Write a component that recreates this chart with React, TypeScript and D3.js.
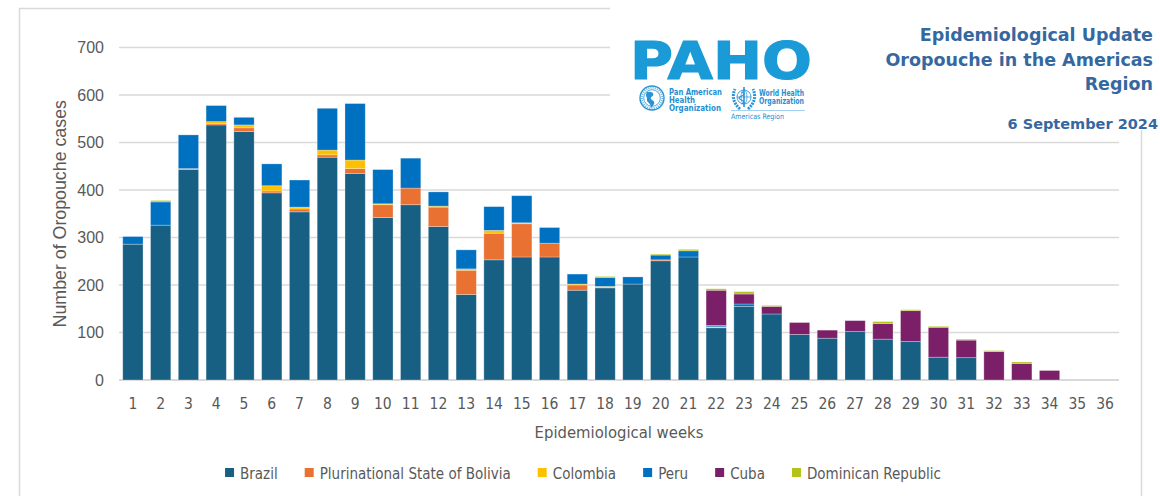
import React from 'react';
import * as d3 from 'd3';

// Epidemiological weeks (x categories)
const weeks = [
  '1', '2', '3', '4', '5', '6', '7', '8', '9', '10', '11', '12',
  '13', '14', '15', '16', '17', '18', '19', '20', '21', '22', '23', '24',
  '25', '26', '27', '28', '29', '30', '31', '32', '33', '34', '35', '36',
];

// Confirmed Oropouche cases per week, by country
const brazil = [286, 326, 443, 537, 523, 394, 354, 469, 435, 342, 369, 323, 180, 253, 259, 259, 189, 194, 202, 251, 259, 110, 155, 139, 96, 88, 102, 86, 81, 48, 47, 0, 0, 0, 0, 0];
const bolivia = [0, 0, 2, 3, 8, 4, 6, 5, 10, 27, 35, 41, 51, 56, 70, 29, 11, 1, 0, 2, 0, 0, 0, 0, 0, 0, 0, 0, 0, 0, 0, 0, 0, 0, 0, 0];
const colombia = [0, 0, 0, 4, 6, 11, 4, 10, 18, 2, 0, 2, 3, 6, 2, 0, 2, 2, 0, 0, 0, 2, 0, 0, 0, 0, 0, 0, 0, 0, 0, 0, 0, 0, 0, 0];
const peru = [16, 49, 71, 34, 16, 46, 57, 88, 119, 72, 63, 30, 40, 50, 57, 33, 21, 19, 15, 10, 13, 3, 5, 0, 0, 0, 0, 0, 0, 0, 0, 0, 0, 0, 0, 0];
const cuba = [0, 0, 0, 0, 0, 0, 0, 0, 0, 0, 0, 0, 0, 0, 0, 0, 0, 0, 0, 0, 0, 74, 21, 16, 25, 17, 23, 33, 65, 63, 37, 60, 35, 20, 0, 0];
const dominicanRepublic = [0, 3, 0, 1, 0, 0, 0, 0, 0, 0, 0, 0, 0, 0, 0, 0, 0, 2, 0, 2, 3, 3, 5, 2, 0, 0, 0, 4, 2, 2, 2, 2, 3, 0, 0, 0];

const countryNames = [
  'Brazil',
  'Plurinational State of Bolivia',
  'Colombia',
  'Peru',
  'Cuba',
  'Dominican Republic',
];
const countryValues = [brazil, bolivia, colombia, peru, cuba, dominicanRepublic];
const countryColors = ['#186083', '#E97132', '#FFC000', '#0070C0', '#7B2068', '#B4C31A'];

const yTicks = [0, 100, 200, 300, 400, 500, 600, 700];

const W = 1160;
const H = 496;
const PLOT_LEFT = 119;
const PLOT_RIGHT = 1119;
const PLOT_BOTTOM = 380;
const PLOT_TOP = 47.5;

const GREY = '#595959';
const GRID = '#d9d9d9';
const TITLE_BLUE = '#3568a0';
const LOGO_BLUE = '#1a9ad6';
const LOGO_TEXT = '#1f8fd2';
const NARROW = "'DejaVu Sans Condensed', 'DejaVu Sans', sans-serif";
const SANS = "'Liberation Sans', Arial, sans-serif";

let measureCtx: CanvasRenderingContext2D | null = null;
function measure(text: string, font: string): number {
  if (!measureCtx) {
    const c = document.createElement('canvas');
    measureCtx = c.getContext('2d');
  }
  if (!measureCtx) return text.length * 7;
  measureCtx.font = font;
  return measureCtx.measureText(text).width;
}

function PahoEmblem({ cx, cy }: { cx: number; cy: number }) {
  return (
    <g stroke="#2a93d4" fill="none">
      <circle cx={cx} cy={cy} r={12} strokeWidth={1.4} />
      <circle cx={cx} cy={cy} r={8.3} strokeWidth={0.8} />
      <path
        d={`M${cx - 5},${cy - 6} q3,-1 6,1 q1,3 -2,4 q-1,2 1,3 q3,1 2,4 q-2,3 -3,4 q0,-3 -2,-5 q-3,-2 -2,-5 q-2,-3 0,-6 z`}
        fill="#2a93d4"
        stroke="none"
      />
      <circle cx={cx} cy={cy} r={10.2} strokeWidth={2} strokeDasharray="1 1.2" opacity={0.7} />
    </g>
  );
}

function WhoEmblem({ cx, cy }: { cx: number; cy: number }) {
  return (
    <g stroke="#2a93d4" fill="none">
      <path d={`M${cx - 4},${cy + 11} Q${cx - 14},${cy + 2} ${cx - 9},${cy - 9}`} strokeWidth={3} strokeDasharray="2 1" />
      <path d={`M${cx + 4},${cy + 11} Q${cx + 14},${cy + 2} ${cx + 9},${cy - 9}`} strokeWidth={3} strokeDasharray="2 1" />
      <circle cx={cx} cy={cy - 1} r={7} strokeWidth={0.9} />
      <ellipse cx={cx} cy={cy - 1} rx={3} ry={7} strokeWidth={0.7} />
      <line x1={cx - 7} y1={cy - 1} x2={cx + 7} y2={cy - 1} strokeWidth={0.7} />
      <line x1={cx} y1={cy - 11} x2={cx} y2={cy + 9} strokeWidth={1.6} />
      <path d={`M${cx - 2.5},${cy - 6} q5,2 0,4 q-5,2 0,4 q5,2 0,4`} strokeWidth={1.2} />
    </g>
  );
}

export default function App() {
  const x = d3
    .scaleBand<string>()
    .domain(weeks)
    .range([PLOT_LEFT, PLOT_RIGHT])
    .paddingInner(0.27)
    .paddingOuter(0.135);
  const y = d3.scaleLinear().domain([0, 700]).range([PLOT_BOTTOM, PLOT_TOP]);

  const table = weeks.map((w, i) => {
    const row: Record<string, number | string> = { week: w };
    countryNames.forEach((n, k) => {
      row[n] = countryValues[k][i];
    });
    return row;
  });
  const stacked = d3
    .stack<Record<string, number | string>>()
    .keys(countryNames)
    .value((d, key) => d[key] as number)(table);

  // legend layout, centred under the chart frame
  const legendSize = 15;
  const legendFont = `${legendSize}px ${NARROW}`;
  const sq = 9;
  const sqGap = 6;
  const itemGap = 27;
  const widths = countryNames.map((n) => sq + sqGap + measure(n, legendFont));
  const legendTotal = d3.sum(widths) + itemGap * (countryNames.length - 1);
  const legendCenter = 583;
  let cursor = legendCenter - legendTotal / 2;
  const legendItems = countryNames.map((n, k) => {
    const item = { name: n, color: countryColors[k], x: cursor };
    cursor += widths[k] + itemGap;
    return item;
  });

  return (
    <svg
      width={W}
      height={H}
      viewBox={`0 0 ${W} ${H}`}
      style={{ position: 'absolute', left: 0, top: 0, background: '#fff' }}
    >
      <rect x={0} y={0} width={W} height={H} fill="#fff" />
      {/* chart frame */}
      <rect x={19.5} y={8.5} width={1122} height={520} fill="none" stroke={GRID} strokeWidth={1.5} />

      {/* gridlines */}
      {yTicks.map((t) => (
        <line
          key={`g${t}`}
          x1={PLOT_LEFT}
          x2={PLOT_RIGHT}
          y1={y(t)}
          y2={y(t)}
          stroke={GRID}
          strokeWidth={t === 0 ? 1.8 : 1.5}
        />
      ))}

      {/* y tick labels */}
      {yTicks.map((t) => (
        <text
          key={`yt${t}`}
          x={104}
          y={y(t)}
          dy="0.36em"
          textAnchor="end"
          fontFamily={SANS}
          fontSize={16}
          fill={GREY}
        >
          {t}
        </text>
      ))}

      {/* stacked bars */}
      {stacked.map((layer, k) => (
        <g key={layer.key} fill={countryColors[k]}>
          {layer.map((d, i) => {
            const h = y(d[0]) - y(d[1]);
            if (h <= 0) return null;
            return (
              <rect
                key={i}
                x={x(weeks[i])}
                y={y(d[1])}
                width={x.bandwidth()}
                height={h}
                stroke="#ffffff"
                strokeOpacity={0.35}
                strokeWidth={0.8}
              />
            );
          })}
        </g>
      ))}

      {/* x tick labels */}
      {weeks.map((w) => (
        <text
          key={`xt${w}`}
          x={(x(w) ?? 0) + x.bandwidth() / 2}
          y={409}
          textAnchor="middle"
          fontFamily={NARROW}
          fontSize={15.5}
          fill={GREY}
        >
          {w}
        </text>
      ))}

      {/* axis titles */}
      <text
        x={(PLOT_LEFT + PLOT_RIGHT) / 2}
        y={438}
        textAnchor="middle"
        fontFamily={NARROW}
        fontSize={16.5}
        fill={GREY}
      >
        Epidemiological weeks
      </text>
      <text
        transform={`translate(66, ${(PLOT_TOP + PLOT_BOTTOM) / 2}) rotate(-90)`}
        textAnchor="middle"
        fontFamily={SANS}
        fontSize={17.8}
        fill={GREY}
      >
        Number of Oropouche cases
      </text>

      {/* legend */}
      {legendItems.map((it) => (
        <g key={it.name}>
          <rect x={it.x} y={468} width={sq} height={sq} fill={it.color} />
          <text x={it.x + sq + sqGap} y={478.5} fontFamily={NARROW} fontSize={legendSize} fill={GREY}>
            {it.name}
          </text>
        </g>
      ))}

      {/* header panel with logo and title */}
      <rect x={610} y={0} width={W - 610} height={130} fill="#fff" />
      <text
        x={630}
        y={79}
        fontFamily="'DejaVu Sans', sans-serif"
        fontWeight={700}
        fontSize={51}
        fill={LOGO_BLUE}
        textLength={182}
        lengthAdjust="spacingAndGlyphs"
        stroke={LOGO_BLUE}
        strokeWidth={1.2}
      >
        PAHO
      </text>
      <PahoEmblem cx={652} cy={98} />
      <g fontFamily={NARROW} fontWeight={700} fontSize={8.6} fill={LOGO_TEXT}>
        <text x={669} y={94.5} textLength={53} lengthAdjust="spacingAndGlyphs">Pan American</text>
        <text x={669} y={102.5} textLength={26} lengthAdjust="spacingAndGlyphs">Health</text>
        <text x={669} y={110.5} textLength={52} lengthAdjust="spacingAndGlyphs">Organization</text>
      </g>
      <WhoEmblem cx={744} cy={98} />
      <g fontFamily={NARROW} fontWeight={700} fontSize={8.6} fill={LOGO_TEXT}>
        <text x={759} y={95.5} textLength={45} lengthAdjust="spacingAndGlyphs">World Health</text>
        <text x={759} y={103.5} textLength={45} lengthAdjust="spacingAndGlyphs">Organization</text>
      </g>
      <line x1={731} x2={805} y1={110.5} y2={110.5} stroke="#8cc6ea" strokeWidth={0.8} />
      <text x={731} y={119} fontFamily={NARROW} fontSize={7.5} fill={LOGO_TEXT} textLength={53} lengthAdjust="spacingAndGlyphs">
        Americas Region
      </text>

      <g fontFamily="'DejaVu Sans', sans-serif" fontWeight={700} fill={TITLE_BLUE} textAnchor="end">
        <text x={1153} y={41} fontSize={17.5}>
          Epidemiological Update
        </text>
        <text x={1153} y={66} fontSize={17.5}>
          Oropouche in the Americas
        </text>
        <text x={1153} y={90} fontSize={17.5}>
          Region
        </text>
        <text x={1158} y={129} fontSize={14.5}>
          6 September 2024
        </text>
      </g>
    </svg>
  );
}
